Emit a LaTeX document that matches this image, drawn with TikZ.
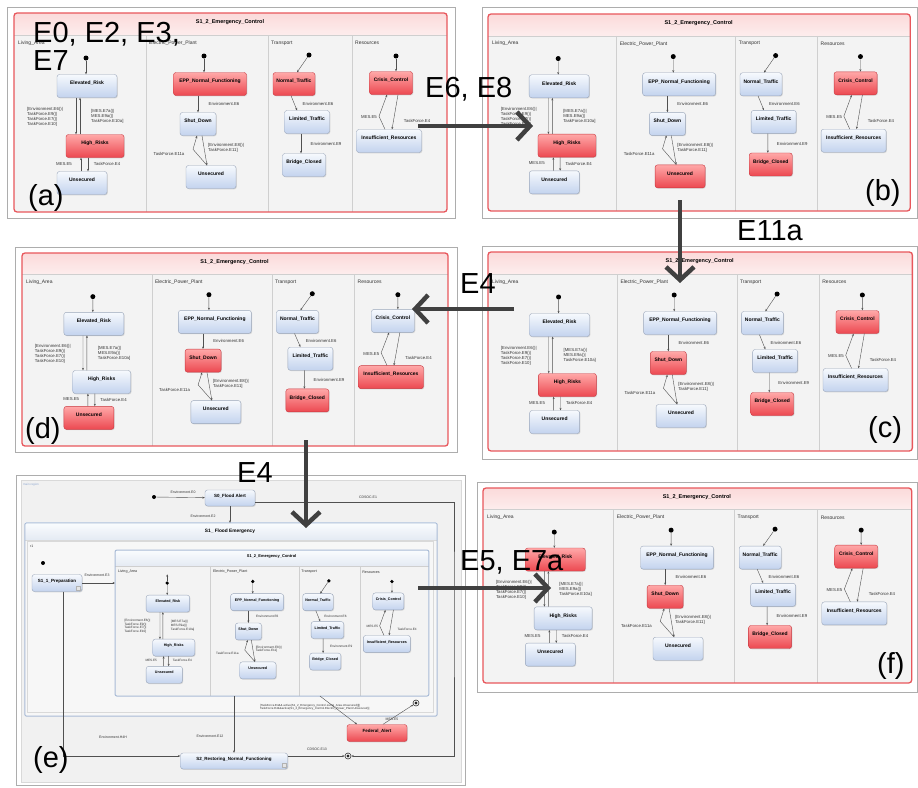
\documentclass[tikz,border=0pt]{standalone}
\usepackage{fontspec}
\setmainfont{Liberation Sans}
\usetikzlibrary{arrows.meta,shadows}
\definecolor{btop}{HTML}{F6F9FD}
\definecolor{bbot}{HTML}{C3D3EE}
\definecolor{bbord}{HTML}{9AA6BA}
\definecolor{rtop}{HTML}{FFA8A8}
\definecolor{rbot}{HTML}{EC4850}
\definecolor{rbord}{HTML}{C83840}
\definecolor{rframe}{HTML}{E8575C}
\definecolor{phtop}{HTML}{FBDADA}
\definecolor{phbot}{HTML}{FDEDED}
\definecolor{pbg}{HTML}{F3F3F3}
\definecolor{pdivc}{HTML}{CFCFCF}
\definecolor{arrc}{HTML}{404040}
\definecolor{lnc}{HTML}{505050}
\definecolor{ofc}{HTML}{ADADAD}
\definecolor{ebg}{HTML}{F1F1F1}
\definecolor{eframe}{HTML}{A9BBD6}
\definecolor{ehtop}{HTML}{FAFCFE}
\definecolor{ehbot}{HTML}{E4EAF3}
\definecolor{mlab}{HTML}{8FA8D0}
\tikzset{
  bst/.style={rectangle, rounded corners=2.5pt, draw=bbord, line width=0.4pt,
    top color=btop, bottom color=bbot, font=\bfseries\fontsize{5}{6}\selectfont,
    minimum height=23pt, text height=3.6pt, text depth=6pt, inner xsep=1pt,
    drop shadow={shadow xshift=0.8pt, shadow yshift=-0.8pt, opacity=0.25}},
  rst/.style={bst, draw=rbord, top color=rtop, bottom color=rbot},
  la1/.style={bst}, la2/.style={bst}, la3/.style={bst},
  ep1/.style={bst}, ep2/.style={bst}, ep3/.style={bst},
  tp1/.style={bst}, tp2/.style={bst}, tp3/.style={bst},
  rs1/.style={bst}, rs2/.style={bst},
  pbody/.style={fill=pbg},
  phead/.style={top color=phtop, bottom color=phbot},
  pdiv/.style={draw=pdivc, line width=0.5pt},
  pframe/.style={draw=rframe, line width=1.3pt, rounded corners=3pt},
  ptitle/.style={font=\bfseries\fontsize{5.5}{6}\selectfont, inner sep=0pt},
  rlab/.style={font=\fontsize{5}{6}\selectfont, text=black!80, anchor=west, inner sep=0pt},
  tlab/.style={font=\fontsize{4.3}{5}\selectfont, text=black!80, inner sep=0pt},
  ini/.style={circle, fill=black, minimum size=5pt, inner sep=0pt},
  tr/.style={draw=lnc, line width=0.4pt, -{Stealth[length=2.4pt,width=2pt]}},
  oframe/.style={draw=ofc, line width=0.8pt, fill=white},
  ebst/.style={bst, font=\bfseries\fontsize{4.5}{5}\selectfont, minimum height=16pt,
    text height=3.2pt, text depth=3.5pt},
  erst/.style={ebst, draw=rbord, top color=rtop, bottom color=rbot},
  finst/.style={circle, draw=black!80, line width=0.6pt, fill=white, minimum size=6pt, inner sep=0pt,
    path picture={\fill[black!85] (path picture bounding box.center) circle (1.6pt);}},
  big/.style={draw=arrc, line width=4.5pt, -{Straight Barb[length=13pt,width=28pt]}},
  biglab/.style={font=\fontsize{29}{32}\selectfont, inner sep=0pt, anchor=base west, text=black}
}
\newcommand\panelbox[6]{%
\begin{scope}[shift={(#2,#3)},xscale=#4,yscale=#5,#6]
\fill[pbody] (0,0) rectangle (433,199);
\shade[phead] (0,0) rectangle (433,22);
\draw[pdiv] (0,22) -- (433,22) (132,22) -- (132,199) (254,22) -- (254,199) (338,22) -- (338,199);
\draw[pframe] (0,0) rectangle (433,199);
\coordinate (#1nw) at (0,0);
\coordinate (#1se) at (433,199);
\node[ptitle] (#1t) at (216,9) {S1\_2\_Emergency\_Control};
\node[rlab] (#1l1) at (4,30) {Living\_Area};
\node[rlab] (#1l2) at (135,30) {Electric\_Power\_Plant};
\node[rlab] (#1l3) at (257,30) {Transport};
\node[rlab] (#1l4) at (341,30) {Resources};
\node[ini] (#1i1) at (72,45) {};
\node[ini] (#1i2) at (190,43) {};
\node[ini] (#1i3) at (295,42) {};
\node[ini] (#1i4) at (382,43) {};
\node[la1,minimum width=60pt] (#1er) at (73,73) {Elevated\_Risk};
\node[la2,minimum width=58pt] (#1hr) at (81,133) {High\_Risks};
\node[la3,minimum width=50pt] (#1us) at (68,170) {Unsecured};
\node[ep1,minimum width=73pt] (#1nf) at (196,71) {EPP\_Normal\_Functioning};
\node[ep2,minimum width=36pt] (#1sd) at (184,111) {Shut\_Down};
\node[ep3,minimum width=50pt] (#1ux) at (197,164) {Unsecured};
\node[tp1,minimum width=42pt] (#1nt) at (280,71) {Normal\_Traffic};
\node[tp2,minimum width=45pt] (#1lt) at (293,109) {Limited\_Traffic};
\node[tp3,minimum width=43pt] (#1bc) at (290,152) {Bridge\_Closed};
\node[rs1,minimum width=43pt] (#1cc) at (377,70) {Crisis\_Control};
\node[rs2,minimum width=65pt] (#1ir) at (375,128) {Insufficient\_Resources};
\node[tlab,anchor=west,align=left] (#1x1) at (13,104) {[Environment.E6()|\\TaskForce.E9()|\\TaskForce.E7()|\\TaskForce.E10]};
\node[tlab,anchor=west,align=left] (#1x2) at (77,103) {[MES.E7a()|\\MES.E9a()|\\TaskForce.E10a]};
\node[tlab] (#1x3) at (50,151) {MES.E5};
\node[tlab] (#1x4) at (93,151) {TaskForce.E4};
\node[tlab] (#1x5) at (210,91) {Environment.E6};
\node[tlab,anchor=west,align=left] (#1x6) at (194,135) {[Environment.E8()|\\TaskForce.E11]};
\node[tlab] (#1x7) at (155,141) {TaskForce.E11a};
\node[tlab] (#1x8) at (304,91) {Environment.E6};
\node[tlab] (#1x9) at (312,131) {Environment.E9};
\node[tlab] (#1x10) at (355,104) {MES.E5};
\node[tlab] (#1x11) at (403,108) {TaskForce.E4};
\draw[tr] (#1i1) -- (#1i1 |- #1er.north);
\draw[tr] ([xshift=-11pt]#1er.south) -- ([xshift=-19pt]#1hr.north);
\draw[tr] ([xshift=-15pt]#1hr.north) -- ([xshift=-7pt]#1er.south);
\draw[tr] ([xshift=-7pt]#1hr.south) -- ([xshift=6pt]#1us.north);
\draw[tr] ([xshift=-1pt]#1us.north) -- ([xshift=-14pt]#1hr.south);
\draw[tr] (#1i2) -- (#1i2 |- #1nf.north);
\draw[tr] (#1nf.south -| #1sd) -- (#1sd.north);
\draw[tr] ([xshift=4pt]#1sd.south) -- ([xshift=-4pt]#1ux.north);
\draw[tr] ([xshift=-4pt]#1ux.north) -- ++(-14,-16) -- ([xshift=-1pt]#1sd.south);
\draw[tr] (#1i3) -- ([xshift=3pt]#1nt.north);
\draw[tr] ([xshift=-3pt]#1nt.south) -- ([xshift=-10pt]#1lt.north);
\draw[tr] ([xshift=-6pt]#1lt.south) -- ([xshift=-3pt]#1bc.north);
\draw[tr] (#1i4) -- (#1i4 |- #1cc.north);
\draw[tr] ([xshift=-4pt]#1ir.north) -- ++(-6,-13) -- ([xshift=-4pt]#1cc.south);
\draw[tr] ([xshift=7pt]#1cc.south) -- ([xshift=3pt]#1ir.north);
\end{scope}}
\begin{document}
\begin{tikzpicture}[x=1pt,y=-1pt]
\useasboundingbox (0,0) rectangle (918,787);
\fill[white] (0,0) rectangle (918,787);
% outer frames
\draw[oframe] (7,7) rectangle (455,218);
\draw[oframe] (482,7) rectangle (917,218);
\draw[oframe] (482,246) rectangle (917,459);
\draw[oframe] (15,247) rectangle (457,452);
\draw[oframe] (477,482) rectangle (917,692);
\draw[oframe] (16,475) rectangle (465,785);
% panels
\panelbox{a}{14}{13}{1}{1}{la2/.style={rst},ep1/.style={rst},tp1/.style={rst},rs1/.style={rst}}
\panelbox{b}{488}{14}{0.975}{0.99}{la2/.style={rst},ep3/.style={rst},tp3/.style={rst},rs1/.style={rst}}
\panelbox{c}{488}{252}{0.98}{1}{la2/.style={rst},ep2/.style={rst},tp3/.style={rst},rs1/.style={rst}}
\panelbox{d}{22}{253}{0.984}{0.97}{la3/.style={rst},ep2/.style={rst},tp3/.style={rst},rs2/.style={rst}}
\panelbox{f}{483}{488}{0.99}{0.98}{la1/.style={rst},ep2/.style={rst},tp3/.style={rst},rs1/.style={rst}}
% panel (e)
\fill[ebg, draw=black!15] (21,480) rectangle (461,782);
\node[font=\fontsize{3}{3.5}\selectfont, text=mlab, anchor=west, inner sep=0pt] (emr) at (23,485) {main region};
\node[ini,minimum size=4pt] (ei0) at (154,497) {};
\node[ebst,minimum width=50pt] (es0) at (230,498) {S0\_Flood Alert};
\node[fill=ebg!60!white, minimum width=412pt, minimum height=193pt, inner sep=0pt] (es1) at (231,619.5) {};
\shade[top color=ehtop, bottom color=ehbot] (es1.north west) rectangle ([yshift=-17pt]es1.north east);
\draw[draw=black!15] ([yshift=-17pt]es1.north west) -- ([yshift=-17pt]es1.north east);
\draw[draw=black!15] (27,541) rectangle (433,712);
\draw[draw=eframe, line width=1pt, rounded corners=2pt] (es1.north west) rectangle (es1.south east);
\node[ptitle, font=\bfseries\fontsize{4.8}{5}\selectfont] (es1t) at (230,531) {S1\_ Flood Emergency};
\node[tlab, font=\fontsize{3.5}{4}\selectfont, anchor=west] (er1) at (30,546) {r1};
\node[ini,minimum size=4pt] (ei1) at (43,563) {};
\node[ebst,minimum width=50pt,minimum height=17pt] (es11) at (57,583) {S1\_1\_Preparation};
\draw[black!30, fill=black!10, line width=0.3pt] ([xshift=-6pt,yshift=2pt]es11.south east) rectangle ++(4pt,4pt);
\panelbox{e}{115}{550}{0.725}{0.734}{transform shape, pframe/.style={draw=eframe, line width=1pt, rounded corners=2pt}, phead/.style={top color=ehtop, bottom color=ehbot}}
\node[ebst,minimum width=107pt] (es2) at (234,761) {S2\_Restoring\_Normal\_Functioning};
\draw[black!30, fill=black!10, line width=0.3pt] ([xshift=-6pt,yshift=2pt]es2.south east) rectangle ++(4pt,4pt);
\node[erst,minimum width=60pt,minimum height=17pt] (eflt) at (377,733) {Federal\_Alert};
\node[finst] (efin1) at (416,703) {};
\node[finst] (efin2) at (348,756) {};
\coordinate (ecx1) at (454,600);
\coordinate (ecx2) at (320,0);
\draw[tr] (ei0) -- (es0);
\draw[tr] (es0.south) -- (es0 |- es1.north);
\draw[tr] ([yshift=-4pt]es0.east) -| (ecx1) |- (efin2);
\draw[tr] ([yshift=5pt]es2.east) -- (efin2);
\draw[tr] (ei1) -- (ei1 |- es11.north);
\draw[tr] (es11.east) -- (es11.east -| enw);
\draw[tr] ([xshift=6pt]es11.south) |- ([yshift=5pt]es2.west);
\draw[tr] (es2 |- ese) -- (es2.north);
\draw[tr] (ecx2 |- ese) -- ([xshift=-20pt]eflt.north);
\draw[tr] ([xshift=6pt]eflt.north) -- (efin1);
\node[tlab,font=\fontsize{3.5}{4}\selectfont] (elb0) at (183,492) {Environment.E0};
\node[tlab,font=\fontsize{3.5}{4}\selectfont] (elb1) at (203,516) {Environment.E2};
\node[tlab,font=\fontsize{3.5}{4}\selectfont] (elb2) at (368,497) {CDSOC.E1};
\node[tlab,font=\fontsize{3.5}{4}\selectfont] (elb3) at (97,575) {Environment.E3};
\node[tlab,font=\fontsize{3.5}{4}\selectfont] (elb4) at (113,737) {Environment.H4H};
\node[tlab,font=\fontsize{3.5}{4}\selectfont] (elb5) at (210,736) {Environment.E12};
\node[tlab,font=\fontsize{3.5}{4}\selectfont] (elb6) at (317,749) {CDSOC.E13};
\node[tlab,font=\fontsize{3.5}{4}\selectfont] (elb7) at (392,719) {MES.E5};
\node[tlab,font=\fontsize{2.9}{3.4}\selectfont,anchor=west,align=left] (elb8) at (260,707) {[TaskForce.E4\&\& active(S1\_2\_Emergency\_Control.Living\_Area.Unsecured)]||\\TaskForce.E4\&\&active(S1\_2\_Emergency\_Control.Electric\_Power\_Plant.Unsecured)]};
% big arrows
\coordinate (b1s) at (418,126); \coordinate (b1e) at (533,126);
\coordinate (b2s) at (680,200); \coordinate (b2e) at (680,283);
\coordinate (b3s) at (514,309); \coordinate (b3e) at (412,309);
\coordinate (b4s) at (306,440); \coordinate (b4e) at (306,528);
\coordinate (b5s) at (418,588); \coordinate (b5e) at (551,588);
\draw[big] (b1s) -- (b1e);
\draw[big] (b2s) -- (b2e);
\draw[big] (b3s) -- (b3e);
\draw[big] (b4s) -- (b4e);
\draw[big] (b5s) -- (b5e);
% big labels
\node[biglab] (L0a) at (33,42) {E0, E2, E3,};
\node[biglab] (L0b) at (33,70) {E7};
\node[biglab] (L1) at (425,97) {E6, E8};
\node[biglab] (L2) at (737,240) {E11a};
\node[biglab] (L3) at (460,293) {E4};
\node[biglab] (L4) at (237,482) {E4};
\node[biglab] (L5) at (460,570) {E5, E7a};
\node[biglab] (La) at (28,205) {(a)};
\node[biglab] (Lb) at (865,200) {(b)};
\node[biglab] (Lc) at (868,437) {(c)};
\node[biglab] (Ld) at (25,438) {(d)};
\node[biglab] (Le) at (33,767) {(e)};
\node[biglab] (Lf) at (877,673) {(f)};
\end{tikzpicture}
\end{document}
